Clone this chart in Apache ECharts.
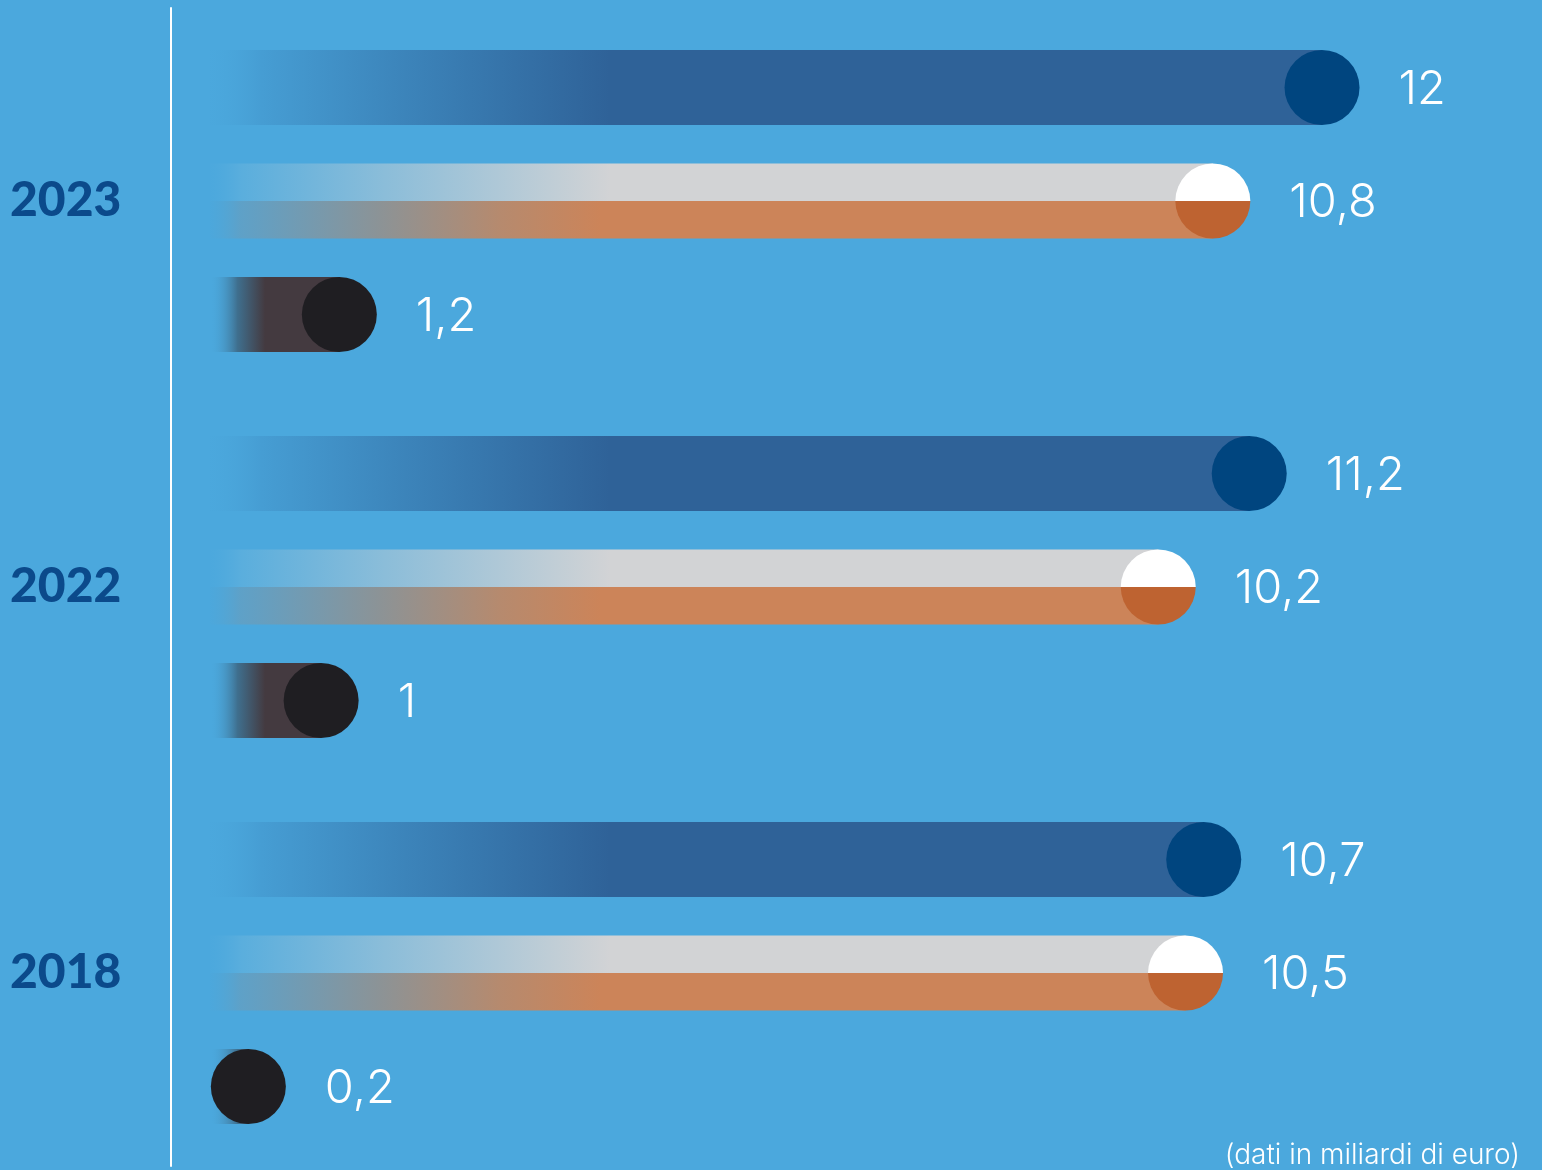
<!DOCTYPE html>
<html>
<head>
<meta charset="utf-8">
<style>
  html, body { margin: 0; padding: 0; background: #4BA8DD; }
  #chart { width: 1542px; height: 1170px; }
</style>
<script src="https://cdn.jsdelivr.net/npm/echarts@6/dist/echarts.min.js"></script>
</head>
<body>
<div id="chart"></div>
<script>
// Years shown on the vertical axis, top to bottom
const years = ['2023', '2022', '2018'];
// Values in billions of euro, one array per row inside each year group
const blueValues = [12, 11.2, 10.7];
const splitValues = [10.8, 10.2, 10.5];
const darkValues = [1.2, 1, 0.2];
const footnote = '(dati in miliardi di euro)';

const BG = '#4BA8DD';
const BAR_H = 75;
const RADIUS = 37.5;
const ROW_GAP = 113.5;
const BAR_PAD = 39;      // space between the axis line and the bar start
const LABEL_GAP = 39;    // space between the dot and its value label
const LABEL_FONT = '300 47px Inter, "Noto Sans", sans-serif';

const fmt = v => String(v).replace('.', ',');

function rowPoints(values) {
  return values.map((v, i) => [v, i]);
}

function valueText(cx, cy, v) {
  return {
    type: 'text',
    style: {
      x: cx + RADIUS + LABEL_GAP,
      y: cy + 2,
      text: fmt(v),
      font: LABEL_FONT,
      fill: '#FFFFFF',
      verticalAlign: 'middle',
      align: 'left'
    }
  };
}

function grad(x0, x1, stops) {
  return new echarts.graphic.LinearGradient(x0, 0, x1, 0, stops, true);
}

// Blue row: gradient bar fading in from the left and a dark blue dot
function renderBlue(params, api) {
  const v = api.value(0);
  const p = api.coord([v, api.value(1)]);
  const cx = p[0], cy = p[1] - ROW_GAP;
  const x0 = params.coordSys.x + BAR_PAD;
  return {
    type: 'group',
    children: [
      {
        type: 'rect',
        shape: { x: x0, y: cy - BAR_H / 2, width: cx - x0, height: BAR_H },
        style: {
          fill: grad(x0 - 10, x0 + 400, [
            { offset: 0, color: 'rgba(75,168,221,0)' },
            { offset: 0.15, color: '#469DD3' },
            { offset: 0.5, color: '#3C84BA' },
            { offset: 1, color: '#2F6298' }
          ])
        }
      },
      { type: 'circle', shape: { cx: cx, cy: cy, r: RADIUS }, style: { fill: '#00457F' } },
      valueText(cx, cy, v)
    ]
  };
}

// Split row: grey upper half, orange lower half, half white / half rust dot
function renderSplit(params, api) {
  const v = api.value(0);
  const p = api.coord([v, api.value(1)]);
  const cx = p[0], cy = p[1];
  const x0 = params.coordSys.x + BAR_PAD;
  const top = cy - BAR_H / 2;
  return {
    type: 'group',
    children: [
      {
        type: 'rect',
        shape: { x: x0, y: top, width: cx - x0, height: BAR_H / 2 },
        style: {
          fill: grad(x0 - 10, x0 + 400, [
            { offset: 0, color: 'rgba(75,168,221,0)' },
            { offset: 0.1, color: '#5AAEDD' },
            { offset: 0.45, color: '#8BBDD9' },
            { offset: 1, color: '#D2D3D5' }
          ])
        }
      },
      {
        type: 'rect',
        shape: { x: x0, y: cy, width: cx - x0, height: BAR_H / 2 },
        style: {
          fill: grad(x0 - 10, x0 + 390, [
            { offset: 0, color: 'rgba(75,168,221,0)' },
            { offset: 0.1, color: '#5EA1C8' },
            { offset: 0.45, color: '#8C9396' },
            { offset: 0.75, color: '#B68A6E' },
            { offset: 1, color: '#CC8459' }
          ])
        }
      },
      {
        type: 'sector',
        shape: { cx: cx, cy: cy, r0: 0, r: RADIUS, startAngle: Math.PI, endAngle: Math.PI * 2, clockwise: true },
        style: { fill: '#FFFFFF' }
      },
      {
        type: 'sector',
        shape: { cx: cx, cy: cy, r0: 0, r: RADIUS, startAngle: 0, endAngle: Math.PI, clockwise: true },
        style: { fill: '#BE6331' }
      },
      valueText(cx, cy, v)
    ]
  };
}

// Dark row: short fading tail and a near-black dot
function renderDark(params, api) {
  const v = api.value(0);
  const p = api.coord([v, api.value(1)]);
  const cx = p[0], cy = p[1] + ROW_GAP;
  const x0 = params.coordSys.x + BAR_PAD;
  return {
    type: 'group',
    children: [
      {
        type: 'rect',
        shape: { x: x0, y: cy - BAR_H / 2, width: cx - x0, height: BAR_H },
        style: {
          fill: grad(x0, x0 + 55, [
            { offset: 0, color: 'rgba(75,168,221,0)' },
            { offset: 0.5, color: '#3F6F8E' },
            { offset: 1, color: '#443A40' }
          ])
        }
      },
      { type: 'circle', shape: { cx: cx, cy: cy, r: RADIUS }, style: { fill: '#1F1E22' } },
      valueText(cx, cy, v)
    ]
  };
}

const chart = echarts.init(document.getElementById('chart'), null, { renderer: 'canvas' });

chart.setOption({
  backgroundColor: BG,
  animation: false,
  grid: { left: 171, right: 38, top: 8, bottom: 4, containLabel: false, outerBoundsMode: 'none' },
  xAxis: {
    type: 'value',
    min: -0.65,
    max: 14,
    show: false
  },
  yAxis: {
    type: 'category',
    data: years,
    inverse: true,
    axisLine: { show: true, onZero: false, lineStyle: { color: '#FFFFFF', width: 2 } },
    axisTick: { show: false },
    splitLine: { show: false },
    axisLabel: {
      align: 'left',
      margin: 161,
      color: '#0B4A8B',
      fontFamily: 'Lato, Inter, sans-serif',
      fontWeight: 900,
      fontSize: 48
    }
  },
  series: [
    { type: 'custom', name: 'blu', data: rowPoints(blueValues), encode: { x: 0, y: 1 }, renderItem: renderBlue, clip: false },
    { type: 'custom', name: 'bicolore', data: rowPoints(splitValues), encode: { x: 0, y: 1 }, renderItem: renderSplit, clip: false },
    { type: 'custom', name: 'scuro', data: rowPoints(darkValues), encode: { x: 0, y: 1 }, renderItem: renderDark, clip: false }
  ],
  graphic: [
    {
      type: 'text',
      right: 22,
      bottom: 0,
      style: {
        text: footnote,
        font: '300 28px Inter, "Noto Sans", sans-serif',
        fill: '#FFFFFF'
      }
    }
  ]
});
</script>
</body>
</html>
